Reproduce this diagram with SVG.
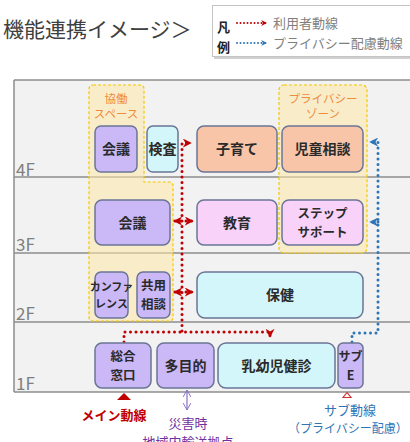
<svg xmlns="http://www.w3.org/2000/svg" width="410" height="442" viewBox="0 0 410 442">
<style>
text{font-family:"Noto Sans CJK JP","Noto Sans",sans-serif}
.n{stroke:#6a7595;stroke-width:1.5}
.pu{fill:#cbb8f6}
.cy{fill:#d3f6fa}
.sa{fill:#f8c5a9}
.pk{fill:#f8d2f8}
.lb{font-size:14px;font-weight:bold;fill:#2a2a2a;text-anchor:middle}
.two{font-size:12.5px}
.sm{font-size:11px}
.xs{font-size:12px}
.fl{font-size:17px;fill:#7f7f7f}
.zone{fill:#ffe9a8;fill-opacity:0.55;stroke:#f5c800;stroke-width:1.2;stroke-dasharray:3 2}
.zt{font-size:11.5px;fill:#f08a3c;text-anchor:middle}
.red{fill:none;stroke:#c00000;stroke-width:3;stroke-linecap:round;stroke-dasharray:0 5.5}
.blue{fill:none;stroke:#2e75b6;stroke-width:3;stroke-linecap:round;stroke-dasharray:0 5.5}
.floor{stroke:#8c8c8c;stroke-width:1.5}
</style>
<defs>
<marker id="ar" viewBox="0 0 10 10" refX="8" refY="5" markerWidth="3" markerHeight="3" orient="auto-start-reverse" markerUnits="strokeWidth"><path d="M0,0 L10,5 L0,10 L3,5 z" fill="#c00000"/></marker>
<marker id="ab" viewBox="0 0 10 10" refX="8" refY="5" markerWidth="3" markerHeight="3" orient="auto-start-reverse" markerUnits="strokeWidth"><path d="M0,0 L10,5 L0,10 L3,5 z" fill="#2e75b6"/></marker>
<marker id="ap" viewBox="0 0 10 10" refX="9" refY="5" markerWidth="8" markerHeight="8" orient="auto-start-reverse" markerUnits="userSpaceOnUse"><path d="M0,0 L9,5 L0,10" fill="none" stroke="#8b6fc8" stroke-width="1.2"/></marker>
</defs>

<!-- title -->
<text x="3" y="37" font-size="21" fill="#404040">機能連携イメージ＞</text>

<!-- legend -->
<g id="legend">
<rect x="214" y="7" width="200" height="52" fill="#d0d0d0"/>
<rect x="212.5" y="5.5" width="200" height="51" fill="#ffffff" stroke="#c4c4c4"/>
<text x="217" y="32" font-size="13" font-weight="bold" fill="#222">凡</text>
<text x="217" y="52" font-size="13" font-weight="bold" fill="#222">例</text>
<path d="M237,23 H266" class="red" style="stroke-width:2;stroke-dasharray:0 3.5" marker-end="url(#ar)"/>
<path d="M237,43 H266" class="blue" style="stroke-width:2;stroke-dasharray:0 3.5" marker-end="url(#ab)"/>
<text x="273" y="28" font-size="13" fill="#808080">利用者動線</text>
<text x="273" y="48" font-size="13" fill="#808080">プライバシー配慮動線</text>
</g>

<!-- building frame -->
<g id="frame">
<rect x="14" y="80" width="400" height="312" fill="#f2f2f2"/>
<line x1="14" y1="80" x2="410" y2="80" class="floor"/>
<line x1="14" y1="177" x2="410" y2="177" class="floor"/>
<line x1="14" y1="253" x2="410" y2="253" class="floor"/>
<line x1="14" y1="322" x2="410" y2="322" class="floor"/>
<line x1="14" y1="392" x2="410" y2="392" class="floor"/>
<line x1="14" y1="80" x2="14" y2="392" class="floor"/>
<text x="16" y="176" class="fl">4F</text>
<text x="16" y="251" class="fl">3F</text>
<text x="16" y="320" class="fl">2F</text>
<text x="16" y="390" class="fl">1F</text>
</g>

<!-- zones -->
<g id="zone-kyodo">
<path d="M93,85 H140 Q144,85 144,89 V182 H169 Q173,182 173,186 V317 Q173,321 169,321 H93 Q89,321 89,317 V89 Q89,85 93,85 z" class="zone"/>
<text x="116" y="103" class="zt">協働</text>
<text x="116" y="118" class="zt">スペース</text>
</g>
<g id="zone-privacy">
<rect x="279" y="85" width="88" height="168" rx="5" class="zone"/>
<text x="323" y="103" class="zt">プライバシー</text>
<text x="323" y="118" class="zt">ゾーン</text>
</g>

<!-- connectors -->
<g id="connectors">
<path d="M182,331 V143 H190" class="red" marker-end="url(#ar)"/>
<path d="M124,342 V332 H270 V336" class="red" marker-end="url(#ar)"/>
<path d="M175,221 H192" class="red" marker-start="url(#ar)" marker-end="url(#ar)"/>
<path d="M175,292 H192" class="red" marker-start="url(#ar)" marker-end="url(#ar)"/>
<path d="M352,342 V333 H378 V142 H371" class="blue" marker-end="url(#ab)"/>
<path d="M378,222 H371" class="blue" marker-end="url(#ab)"/>
<path d="M187,390 V410" stroke="#8b6fc8" stroke-width="1.2" fill="none" marker-start="url(#ap)" marker-end="url(#ap)"/>
<polygon points="124,393 117,400 131,400" fill="#c00000"/>
<polygon points="347,392.5 343,397.5 351,397.5" fill="#ffffff" stroke="#d03030" stroke-width="1.2"/>
</g>

<!-- 4F -->
<g id="n4-kaigi"><rect x="95" y="126" width="42" height="46" rx="6" class="n pu"/><text x="116" y="154" class="lb">会議</text></g>
<g id="n4-kensa"><rect x="147" y="126" width="31" height="46" rx="6" class="n cy"/><text x="162.5" y="154" class="lb">検査</text></g>
<g id="n4-kosodate"><rect x="197" y="126" width="80" height="46" rx="7" class="n sa"/><text x="237" y="154" class="lb">子育て</text></g>
<g id="n4-jido"><rect x="282" y="126" width="81" height="46" rx="7" class="n sa"/><text x="322.5" y="154" class="lb">児童相談</text></g>

<!-- 3F -->
<g id="n3-kaigi"><rect x="95" y="200" width="75" height="45" rx="7" class="n pu"/><text x="132.5" y="228" class="lb">会議</text></g>
<g id="n3-kyoiku"><rect x="197" y="200" width="80" height="45" rx="7" class="n pk"/><text x="237" y="228" class="lb">教育</text></g>
<g id="n3-step"><rect x="282" y="200" width="81" height="45" rx="7" class="n pk"/><text x="322.5" y="218" class="lb two">ステップ</text><text x="322.5" y="237" class="lb two">サポート</text></g>

<!-- 2F -->
<g id="n2-conf"><rect x="95" y="272" width="33" height="46" rx="6" class="n pu"/><text x="111.5" y="291" class="lb sm">カンファ</text><text x="111.5" y="308" class="lb sm">レンス</text></g>
<g id="n2-kyoyo"><rect x="137" y="272" width="33" height="46" rx="6" class="n pu"/><text x="153.5" y="290" class="lb two">共用</text><text x="153.5" y="309" class="lb two">相談</text></g>
<g id="n2-hoken"><rect x="197" y="272" width="166" height="46" rx="8" class="n cy"/><text x="280" y="300" class="lb">保健</text></g>

<!-- 1F -->
<g id="n1-madoguchi"><rect x="95" y="343" width="56" height="45" rx="7" class="n pu"/><text x="123" y="361" class="lb two">総合</text><text x="123" y="380" class="lb two">窓口</text></g>
<g id="n1-tamokuteki"><rect x="157" y="343" width="57" height="45" rx="7" class="n pu"/><text x="185.5" y="371" class="lb">多目的</text></g>
<g id="n1-nyuyoji"><rect x="218" y="343" width="117" height="45" rx="8" class="n cy"/><text x="276.5" y="371" class="lb">乳幼児健診</text></g>
<g id="n1-subE"><rect x="338" y="343" width="25" height="45" rx="5" class="n pu"/><text x="350.5" y="361" class="lb xs">サブ</text><text x="350.5" y="380" class="lb two">E</text></g>

<!-- bottom labels -->
<text x="114" y="420" font-size="13" font-weight="bold" fill="#c00000" text-anchor="middle">メイン動線</text>
<text x="188" y="428" font-size="13" fill="#7030a0" text-anchor="middle">災害時</text>
<text x="188" y="447" font-size="13" fill="#7030a0" text-anchor="middle">地域内輸送拠点</text>
<text x="350" y="415" font-size="13" fill="#2e75b6" text-anchor="middle">サブ動線</text>
<text x="348" y="433" font-size="12" fill="#2e75b6" text-anchor="middle">（プライバシー配慮）</text>
</svg>
